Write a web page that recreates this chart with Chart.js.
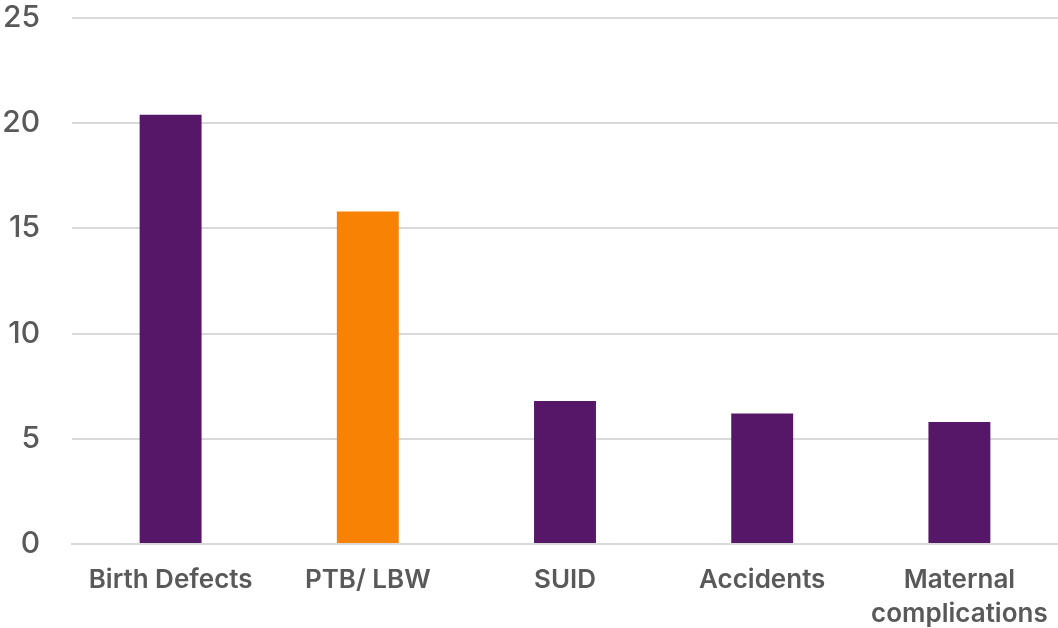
<!DOCTYPE html>
<html>
<head>
<meta charset="utf-8">
<script src="https://cdn.jsdelivr.net/npm/chart.js@4/dist/chart.umd.min.js"></script>
<style>
  html, body { margin: 0; padding: 0; background: #fff; }
  #wrap { width: 1058px; height: 628px; position: relative; }
</style>
</head>
<body>
<div id="wrap"><canvas id="c"></canvas></div>
<script>
// Categories and values
const categories = [
  ["Birth Defects"],
  ["PTB/ LBW"],
  ["SUID"],
  ["Accidents"],
  ["Maternal", "complications"]
];
const values = [20.4, 15.8, 6.8, 6.2, 5.8];
const barColors = ["#561769", "#F88203", "#561769", "#561769", "#561769"];
const yTicks = [0, 5, 10, 15, 20, 25];

new Chart(document.getElementById("c"), {
  type: "bar",
  data: {
    labels: categories,
    datasets: [{
      data: values,
      backgroundColor: barColors,
      borderWidth: 0,
      barPercentage: 0.314,
      categoryPercentage: 1
    }]
  },
  options: {
    responsive: true,
    maintainAspectRatio: false,
    animation: false,
    layout: { padding: 0 },
    plugins: { legend: { display: false }, tooltip: { enabled: false } },
    scales: {
      x: {
        grid: { display: false, drawTicks: false },
        border: { display: true, color: "#d9d9d9", width: 2 },
        ticks: {
          color: "#595959",
          font: { family: "Inter", size: 26, weight: 600, lineHeight: 1.3 },
          padding: 19,
          maxRotation: 0,
          autoSkip: false
        },
        afterFit: (s) => { s.height = 84; s.paddingLeft = 0; s.paddingRight = 0; }
      },
      y: {
        min: 0,
        max: 25,
        afterBuildTicks: (axis) => { axis.ticks = yTicks.map(v => ({ value: v })); },
        grid: { color: "#d9d9d9", lineWidth: 2, drawTicks: false },
        border: { display: false },
        ticks: {
          color: "#595959",
          font: { family: "Inter", size: 30, weight: 500, lineHeight: 1.2 },
          padding: 32
        },
        afterFit: (s) => { s.width = 72; s.paddingTop = 18; s.paddingBottom = 0; }
      }
    }
  }
});
</script>
</body>
</html>
